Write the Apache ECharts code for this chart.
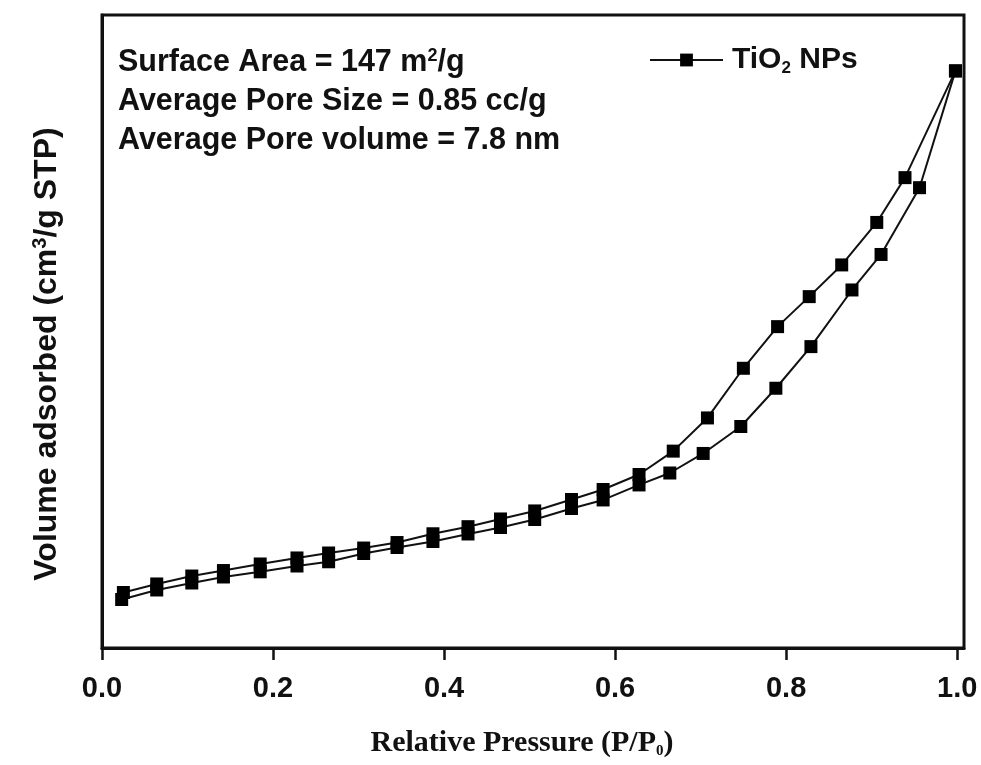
<!DOCTYPE html>
<html><head><meta charset="utf-8">
<script src="https://cdn.jsdelivr.net/npm/echarts@6/dist/echarts.min.js"></script>
<style>html,body{margin:0;padding:0;background:#fff}#c{width:981px;height:765px}</style>
</head><body><div id="c"></div>
<script>
// Adsorption branch (relative pressure, volume adsorbed - arbitrary units)
const adsP = [0.023,0.064,0.105,0.142,0.185,0.228,0.265,0.306,0.345,0.387,0.428,0.466,0.506,0.549,0.586,0.628,0.664,0.703,0.747,0.788,0.829,0.877,0.911,0.956,0.998];
const adsV = [45.9,54.9,61.5,67.2,72.1,77.6,81.6,89.4,95.1,100.8,107.9,114.0,121.6,132.0,140.1,154.3,165.6,184.1,209.6,245.8,285.2,338.8,372.4,435.6,546.1];
// Desorption branch
const desP = [0.998,0.939,0.906,0.865,0.827,0.790,0.750,0.708,0.668,0.628,0.586,0.549,0.506,0.466,0.428,0.387,0.345,0.306,0.265,0.228,0.185,0.142,0.105,0.064,0.025];
const desV = [546.1,445.1,402.7,362.5,332.5,304.1,264.7,217.7,186.3,164.2,150.0,140.5,129.7,122.1,114.8,108.1,99.8,94.6,89.9,85.2,79.5,73.3,68.1,60.6,52.5];
const xTicks = [0, 0.2, 0.4, 0.6, 0.8, 1.0];
const seriesName = 'TiO2 NPs';
const noteLines = [
  '{b|Surface Area = 147 m}{sup|2}{b|/g}',
  '{b|Average Pore Size = 0.85 cc/g}',
  '{b|Average Pore volume = 7.8 nm}'
];
const xTitle = '{a|Relative Pressure (P/P}{s|0}{a|)}';
const yTitle = '{a|Volume adsorbed (cm}{sup|3}{a|/g STP)}';

const SANS = "'Liberation Sans', Arial, sans-serif";
const SERIF = "'Liberation Serif', 'Times New Roman', serif";
const pair = (xs, ys) => xs.map((x, i) => [x, ys[i]]);

const chart = echarts.init(document.getElementById('c'), null, {renderer: 'canvas'});
const lineSeries = (data) => ({
  type: 'line', name: seriesName, data: data,
  symbol: 'rect', symbolSize: 13, showAllSymbol: true,
  lineStyle: {color: '#111', width: 2},
  itemStyle: {color: '#000', borderWidth: 0},
  emphasis: {disabled: true}, animation: false, z: 3
});

chart.setOption({
  backgroundColor: '#fff',
  animation: false,
  grid: {left: 102, right: 17, top: 15, bottom: 117, show: true, borderColor: '#111', borderWidth: 3, backgroundColor: 'transparent'},
  xAxis: {
    type: 'value', min: 0, max: 1.008,
    axisLine: {show: true, onZero: false, lineStyle: {color: '#111', width: 3}},
    axisTick: {show: true, inside: false, length: 12, lineStyle: {color: '#111', width: 2.5}, customValues: xTicks},
    axisLabel: {show: true, margin: 26, customValues: xTicks, formatter: v => v.toFixed(1),
      fontFamily: SANS, fontWeight: 'bold', fontSize: 29, color: '#111'},
    splitLine: {show: false}
  },
  yAxis: {
    type: 'value', min: 0, max: 599,
    axisLine: {show: true, onZero: false, lineStyle: {color: '#111', width: 3}},
    axisTick: {show: false}, axisLabel: {show: false}, splitLine: {show: false}
  },
  legend: {
    left: 649, top: 45, itemWidth: 73, itemHeight: 16, itemGap: 0, padding: 0,
    data: [seriesName], selectedMode: false,
    formatter: () => '{a|TiO}{s|2}{a| NPs}',
    textStyle: {padding: [0, 0, 0, 4], rich: {
      a: {fontFamily: SANS, fontWeight: 'bold', fontSize: 30, color: '#111'},
      s: {fontFamily: SANS, fontWeight: 'bold', fontSize: 17, color: '#111', padding: [16, 0, 0, 0]}
    }}
  },
  graphic: noteLines.map((t, i) => ({
    type: 'text', left: 118, top: 47 + i * 39, silent: true,
    style: {text: t, rich: {
      b: {fontFamily: SANS, fontWeight: 'bold', fontSize: 30.5, fill: '#111'},
      sup: {fontFamily: SANS, fontWeight: 'bold', fontSize: 18, fill: '#111', verticalAlign: 'top', padding: [0, 0, 12, 0]}
    }}
  })).concat([
    {
      type: 'text', x: 522, y: 743, silent: true,
      style: {text: xTitle, align: 'center', verticalAlign: 'middle', rich: {
        a: {fontFamily: SERIF, fontWeight: 'bold', fontSize: 30, fill: '#111'},
        s: {fontFamily: SERIF, fontWeight: 'bold', fontSize: 15, fill: '#111', padding: [16, 0, 0, 0]}
      }}
    },
    {
      type: 'text', x: 47, y: 354, rotation: Math.PI / 2, silent: true,
      style: {text: yTitle, align: 'center', verticalAlign: 'middle', rich: {
        a: {fontFamily: SANS, fontWeight: 'bold', fontSize: 32, fill: '#111'},
        sup: {fontFamily: SANS, fontWeight: 'bold', fontSize: 20, fill: '#111', verticalAlign: 'top', padding: [0, 0, 14, 0]}
      }}
    }
  ]),
  series: [lineSeries(pair(adsP, adsV)), lineSeries(pair(desP, desV))]
});
</script></body></html>
